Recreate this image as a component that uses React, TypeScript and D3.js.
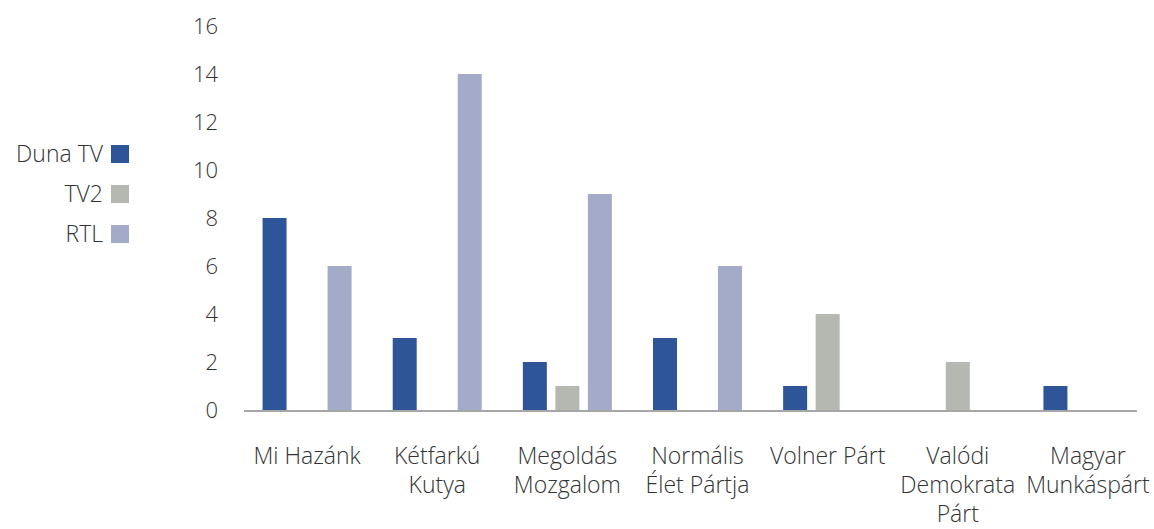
import React from "react";
import * as d3 from "d3";

const categories = [
  ["Mi Hazánk"],
  ["Kétfarkú", "Kutya"],
  ["Megoldás", "Mozgalom"],
  ["Normális", "Élet Pártja"],
  ["Volner Párt"],
  ["Valódi", "Demokrata", "Párt"],
  ["Magyar", "Munkáspárt"],
];
const seriesNames = ["Duna TV", "TV2", "RTL"];
const dunaTV = [8, 3, 2, 3, 1, 0, 1];
const tv2 = [0, 0, 1, 0, 4, 2, 0];
const rtl = [6, 14, 9, 6, 0, 0, 0];
const yTicks = [0, 2, 4, 6, 8, 10, 12, 14, 16];
const colors = ["#2e5597", "#b4b8b0", "#a3abc8"];

const W = 1154;
const H = 529;
const FONT = "'Open Sans', 'Noto Sans', sans-serif";

const App = () => {
  const values = [dunaTV, tv2, rtl];
  const keys = categories.map((c) => c.join(" "));

  const x = d3.scaleBand<string>().domain(keys).range([242, 1153]).padding(0);
  const groupW = 89;
  const inner = d3
    .scaleBand<string>()
    .domain(seriesNames)
    .range([0, groupW])
    .paddingInner(0.262)
    .paddingOuter(0);
  const y = d3.scaleLinear().domain([0, 16]).range([410, 26]);

  return (
    <svg width={W} height={H} style={{ position: "absolute", left: 0, top: 0 }}>
      <g fontFamily={FONT} fontWeight={300} fill="#333">
        {yTicks.map((t) => (
          <text key={t} x={218} y={y(t)} dy="0.35em" textAnchor="end" fontSize={22}>
            {t}
          </text>
        ))}
        {values.map((vals, si) =>
          vals.map((v, ci) =>
            v > 0 ? (
              <rect
                key={si + "-" + ci}
                x={x(keys[ci])! + (x.bandwidth() - groupW) / 2 + inner(seriesNames[si])!}
                y={y(v)}
                width={inner.bandwidth()}
                height={y(0) - y(v)}
                fill={colors[si]}
              />
            ) : null
          )
        )}
        <line x1={244} x2={1137} y1={y(0) + 1} y2={y(0) + 1} stroke="#a6a6a6" strokeWidth={2} />
        {categories.map((lines, ci) => (
          <text
            key={ci}
            x={x(keys[ci])! + x.bandwidth() / 2}
            y={464}
            textAnchor="middle"
            fontSize={23}
          >
            {lines.map((l, li) => (
              <tspan key={li} x={x(keys[ci])! + x.bandwidth() / 2} dy={li === 0 ? 0 : 29}>
                {l}
              </tspan>
            ))}
          </text>
        ))}
        {seriesNames.map((s, si) => (
          <g key={s} transform={`translate(0, ${154 + si * 40})`}>
            <text x={103} y={0} dy="0.35em" textAnchor="end" fontSize={23}>
              {s}
            </text>
            <rect x={111} y={-9} width={18} height={18} fill={colors[si]} />
          </g>
        ))}
      </g>
    </svg>
  );
};

export default App;
